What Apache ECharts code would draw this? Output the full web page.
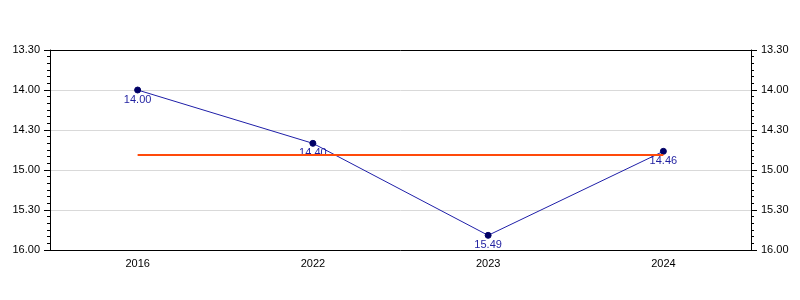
<!DOCTYPE html>
<html><head><meta charset="utf-8">
<script src="https://cdn.jsdelivr.net/npm/echarts@6/dist/echarts.min.js"></script>
<style>html,body{margin:0;padding:0;background:#fff}#c{width:800px;height:300px}</style>
</head><body><div id="c"></div>
<script>
// Times in seconds (mm.ss shown on chart)
const categories = ['2016', '2022', '2023', '2024'];
const timesSec = [840, 880, 949, 886];   // 14.00, 14.40, 15.49, 14.46
const axisMin = 810;   // 13.30
const axisMax = 960;   // 16.00
const axisStep = 30;

function fmt(v) {
  v = Math.round(v);
  const m = Math.floor(v / 60), s = v % 60;
  return m + '.' + (s < 10 ? '0' : '') + s;
}
const avg = timesSec.reduce((a, b) => a + b, 0) / timesSec.length;
const font = 'Liberation Sans, Arial, sans-serif';
const yCommon = {
  type: 'value', inverse: true, min: axisMin, max: axisMax, interval: axisStep,
  axisLine: { show: true, lineStyle: { color: '#000', width: 1 } },
  axisTick: { show: true, length: 6, lineStyle: { color: '#000' } },
  minorTick: { show: true, splitNumber: 6, length: 3, lineStyle: { color: '#000' } },
  axisLabel: { formatter: fmt, color: '#000', fontSize: 11, fontFamily: font, margin: 10 },
};
const chart = echarts.init(document.getElementById('c'), null, { renderer: 'canvas' });
chart.setOption({
  animation: false,
  grid: { left: 50, right: 49, top: 50, bottom: 50, containLabel: false },
  xAxis: [{
    type: 'category', data: categories, boundaryGap: true,
    axisLine: { lineStyle: { color: '#000' } },
    axisTick: { alignWithLabel: true, length: 5, lineStyle: { color: '#000' } },
    axisLabel: { color: '#000', fontSize: 11, fontFamily: font, margin: 8 },
    splitLine: { show: false }
  }, {
    type: 'category', data: categories, position: 'top',
    axisLine: { lineStyle: { color: '#000' } },
    axisTick: { show: false }, axisLabel: { show: false }, splitLine: { show: false }
  }],
  yAxis: [
    Object.assign({}, yCommon, { position: 'left', splitLine: { show: true, lineStyle: { color: '#d9d9d9', width: 1 } } }),
    Object.assign({}, yCommon, { position: 'right', splitLine: { show: false } })
  ],
  series: [{
    type: 'line', data: timesSec, xAxisIndex: 0, yAxisIndex: 0,
    symbol: 'circle', symbolSize: 6,
    lineStyle: { color: '#1f1fa8', width: 1 },
    itemStyle: { color: '#000066', borderColor: '#000066' },
    label: { show: true, position: 'bottom', distance: 1, formatter: p => fmt(p.value), color: '#1f1fa0', fontSize: 11, fontFamily: font },
    markLine: {
      silent: true, symbol: 'none', label: { show: false },
      lineStyle: { color: '#ff4a0a', width: 2, type: 'solid' },
      data: [[
        { coord: [categories[0], avg] },
        { coord: [categories[categories.length - 1], avg] }
      ]],
      z: 4
    },
    z: 3
  }]
});
</script></body></html>
